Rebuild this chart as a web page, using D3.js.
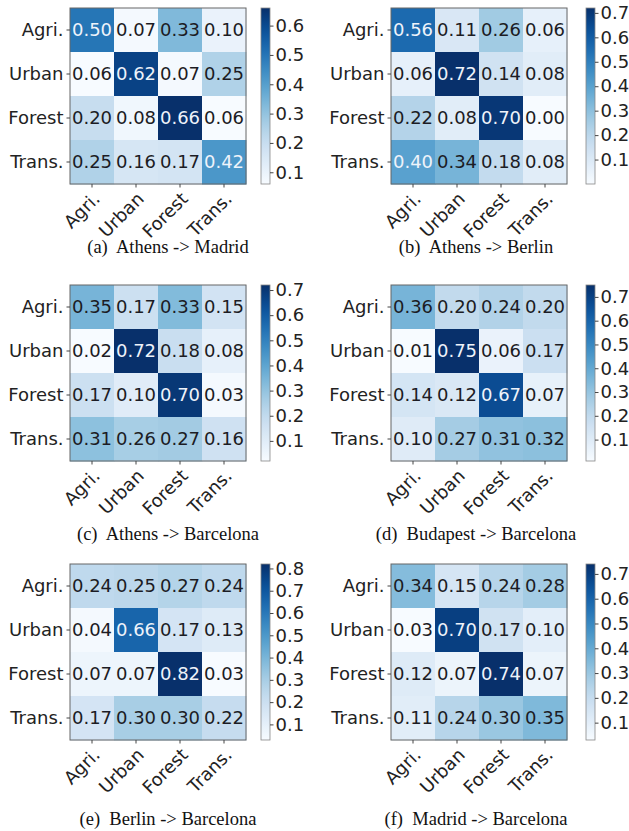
<!DOCTYPE html>
<html>
<head>
<meta charset="utf-8">
<script src="https://cdn.jsdelivr.net/npm/d3@7"></script>
<style>
  body { margin: 0; background: #fff; }
  svg { display: block; }
  .tick text { font-family: "DejaVu Sans", sans-serif; font-size: 18px; fill: #222; }
  .cell-label { font-family: "DejaVu Sans", sans-serif; font-size: 18px; }
  .caption { font-family: "Liberation Serif", "Times New Roman", serif; font-size: 18.5px; fill: #111; white-space: pre; }
</style>
</head>
<body>
<div class="display"></div>
<script>
const classes = ['Agri.', 'Urban', 'Forest', 'Trans.'];

// rows = true class, columns = predicted class
const athensMadrid = [
    [0.50, 0.07, 0.33, 0.10],
    [0.06, 0.62, 0.07, 0.25],
    [0.20, 0.08, 0.66, 0.06],
    [0.25, 0.16, 0.17, 0.42]
];
const athensBerlin = [
    [0.56, 0.11, 0.26, 0.06],
    [0.06, 0.72, 0.14, 0.08],
    [0.22, 0.08, 0.70, 0.00],
    [0.40, 0.34, 0.18, 0.08]
];
const athensBarcelona = [
    [0.35, 0.17, 0.33, 0.15],
    [0.02, 0.72, 0.18, 0.08],
    [0.17, 0.10, 0.70, 0.03],
    [0.31, 0.26, 0.27, 0.16]
];
const budapestBarcelona = [
    [0.36, 0.20, 0.24, 0.20],
    [0.01, 0.75, 0.06, 0.17],
    [0.14, 0.12, 0.67, 0.07],
    [0.10, 0.27, 0.31, 0.32]
];
const berlinBarcelona = [
    [0.24, 0.25, 0.27, 0.24],
    [0.04, 0.66, 0.17, 0.13],
    [0.07, 0.07, 0.82, 0.03],
    [0.17, 0.30, 0.30, 0.22]
];
const madridBarcelona = [
    [0.34, 0.15, 0.24, 0.28],
    [0.03, 0.70, 0.17, 0.10],
    [0.12, 0.07, 0.74, 0.07],
    [0.11, 0.24, 0.30, 0.35]
];

const matrices = [athensMadrid, athensBerlin, athensBarcelona, budapestBarcelona, berlinBarcelona, madridBarcelona];
const captions = [
    '(a)  Athens -> Madrid',
    '(b)  Athens -> Berlin',
    '(c)  Athens -> Barcelona',
    '(d)  Budapest -> Barcelona',
    '(e)  Berlin -> Barcelona',
    '(f)  Madrid -> Barcelona'
];
const colorbarTicks = [
    [0.1, 0.2, 0.3, 0.4, 0.5, 0.6],
    [0.1, 0.2, 0.3, 0.4, 0.5, 0.6, 0.7],
    [0.1, 0.2, 0.3, 0.4, 0.5, 0.6, 0.7],
    [0.1, 0.2, 0.3, 0.4, 0.5, 0.6, 0.7],
    [0.1, 0.2, 0.3, 0.4, 0.5, 0.6, 0.7, 0.8],
    [0.1, 0.2, 0.3, 0.4, 0.5, 0.6, 0.7]
];

const width = 629;
const height = 831;
const size = 176;
const colX = [70, 391];
const cbGap = [15, 19];
const rowY = [8, 285, 564];
const captionY = [253, 540, 825];
const captionX = [168, 476];

const svg = d3.select('.display')
    .append('svg')
    .attr('width', width)
    .attr('height', height);

const defs = svg.append('defs');

matrices.forEach((matrix, i) => {
    const col = i % 2;
    const row = Math.floor(i / 2);
    const x0 = colX[col];
    const y0 = rowY[row];
    const values = matrix.flat();
    const [vmin, vmax] = d3.extent(values);

    const color = d3.scaleSequential(d3.interpolateBlues).domain([vmin, vmax]);

    const g = svg.append('g').attr('transform', `translate(${x0}, ${y0})`);

    const xScale = d3.scaleBand().domain(classes).range([0, size]);
    const yScale = d3.scaleBand().domain(classes).range([0, size]);

    const cells = matrix.flatMap((r, ri) => r.map((v, ci) => ({ row: classes[ri], col: classes[ci], v })));

    g.selectAll('rect.cell')
        .data(cells)
        .enter()
        .append('rect')
        .attr('class', 'cell')
        .attr('x', d => xScale(d.col))
        .attr('y', d => yScale(d.row))
        .attr('width', xScale.bandwidth() + 0.5)
        .attr('height', yScale.bandwidth() + 0.5)
        .attr('fill', d => color(d.v));

    g.selectAll('text.cell-label')
        .data(cells)
        .enter()
        .append('text')
        .attr('class', 'cell-label')
        .attr('x', d => xScale(d.col) + xScale.bandwidth() / 2)
        .attr('y', d => yScale(d.row) + yScale.bandwidth() / 2)
        .attr('dy', '0.36em')
        .attr('text-anchor', 'middle')
        .attr('fill', d => d.v > vmax / 2 ? '#eef3fa' : '#1c1c24')
        .text(d => d3.format('.2f')(d.v));

    g.append('rect')
        .attr('width', size)
        .attr('height', size)
        .attr('fill', 'none')
        .attr('stroke', '#666')
        .attr('stroke-width', 1);

    const yAxis = d3.axisLeft(yScale).tickSize(3.5).tickPadding(3);
    g.append('g').call(yAxis).call(a => a.select('.domain').remove())
        .call(a => a.selectAll('line').attr('stroke', '#444'));

    const xAxis = d3.axisBottom(xScale).tickSize(3.5);
    g.append('g')
        .attr('transform', `translate(0, ${size})`)
        .call(xAxis)
        .call(a => a.select('.domain').remove())
        .call(a => a.selectAll('line').attr('stroke', '#444'))
        .call(a => a.selectAll('text')
            .attr('y', 0)
            .attr('dy', 0)
            .attr('text-anchor', 'end')
            .attr('transform', 'translate(9, 16) rotate(-45)'));

    // colorbar
    const cbX = size + cbGap[col];
    const cbW = 9;
    const gradId = `cb-grad-${i}`;
    const grad = defs.append('linearGradient')
        .attr('id', gradId)
        .attr('x1', 0).attr('y1', 1).attr('x2', 0).attr('y2', 0);
    d3.range(0, 1.0001, 0.05).forEach(t => {
        grad.append('stop')
            .attr('offset', t)
            .attr('stop-color', color(vmin + t * (vmax - vmin)));
    });

    const cbScale = d3.scaleLinear().domain([vmin, vmax]).range([size, 0]);

    g.append('rect')
        .attr('x', cbX)
        .attr('width', cbW)
        .attr('height', size)
        .attr('fill', `url(#${gradId})`)
        .attr('stroke', '#888')
        .attr('stroke-width', 0.8);

    g.append('g')
        .attr('transform', `translate(${cbX + cbW}, 0)`)
        .call(d3.axisRight(cbScale).tickValues(colorbarTicks[i]).tickSize(3.5).tickPadding(2).tickFormat(d3.format('.1f')))
        .call(a => a.select('.domain').remove())
        .call(a => a.selectAll('line').attr('stroke', '#444'));

    svg.append('text')
        .attr('class', 'caption')
        .attr('x', captionX[col])
        .attr('y', captionY[row])
        .attr('text-anchor', 'middle')
        .text(captions[i]);
});
</script>
</body>
</html>
